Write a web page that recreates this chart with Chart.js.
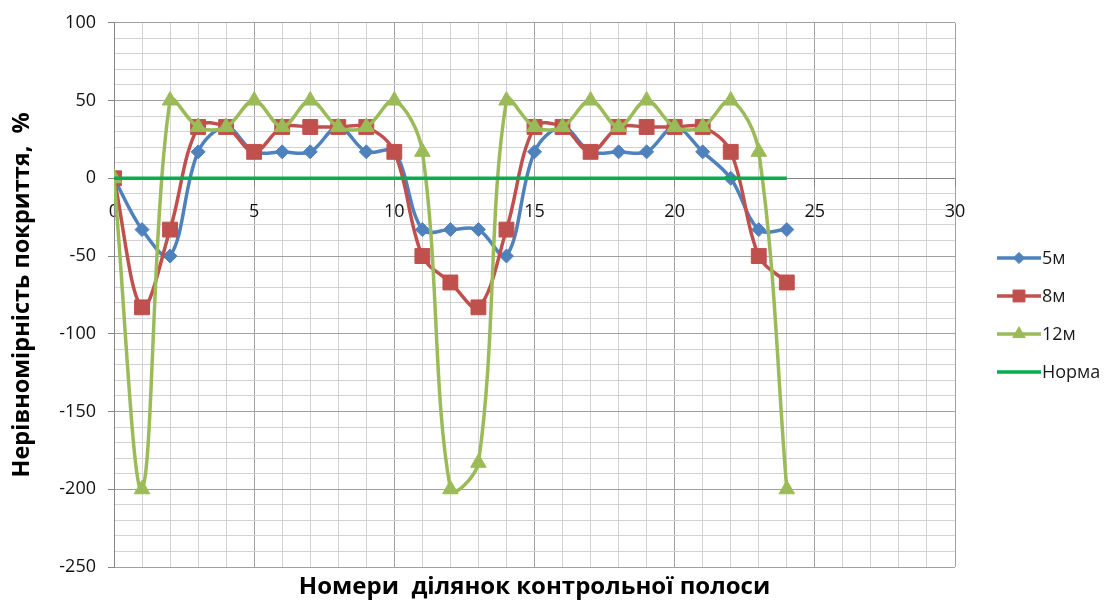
<!DOCTYPE html>
<html>
<head>
<meta charset="utf-8">
<script src="https://cdn.jsdelivr.net/npm/chart.js@4/dist/chart.umd.min.js"></script>
<style>
  html, body { margin: 0; padding: 0; background: #ffffff; }
  #wrap { width: 1106px; height: 603px; }
</style>
</head>
<body>
<div id="wrap"><canvas id="c" width="1106" height="603"></canvas></div>
<script>
// Section numbers of the control strip
const sections = [0, 1, 2, 3, 4, 5, 6, 7, 8, 9, 10, 11, 12, 13, 14, 15, 16, 17, 18, 19, 20, 21, 22, 23, 24];

// Coverage unevenness, % (per sprayer working width)
const unev5m  = [0, -33, -50, 17, 33, 17, 17, 17, 33, 17, 17, -33, -33, -33, -50, 17, 33, 17, 17, 17, 33, 17, 0, -33, -33];
const unev8m  = [0, -83, -33, 33, 33, 17, 33, 33, 33, 33, 17, -50, -67, -83, -33, 33, 33, 17, 33, 33, 33, 33, 17, -50, -67];
const unev12m = [0, -200, 50, 33, 33, 50, 33, 50, 33, 33, 50, 17, -200, -183, 50, 33, 33, 50, 33, 50, 33, 33, 50, 17, -200];

// Norm line end points
const normSections = [0, 24];
const normValues   = [0, 0];

// Labelled ticks
const xTickLabels = [0, 5, 10, 15, 20, 25, 30];
const yTickLabels = [100, 50, 0, -50, -100, -150, -200, -250];

const seriesNames = ['5м', '8м', '12м', 'Норма'];

const FONT = "'Open Sans', 'Liberation Sans', Arial, sans-serif";
const MAJOR = '#a0a0a0';
const MINOR = '#d2d2d2';
const AXIS = '#868686';

function pts(xs, ys) { return xs.map((x, i) => ({ x: x, y: ys[i] })); }

const datasets = [
  { label: seriesNames[0], data: pts(sections, unev5m), borderColor: '#4F81BD', backgroundColor: '#4F81BD',
    pointStyle: 'rectRot', pointRadius: 7, order: 4 },
  { label: seriesNames[1], data: pts(sections, unev8m), borderColor: '#C0504D', backgroundColor: '#C0504D',
    pointStyle: 'rect', pointRadius: 10.5, order: 3 },
  { label: seriesNames[2], data: pts(sections, unev12m), borderColor: '#9BBB59', backgroundColor: '#9BBB59',
    pointStyle: 'triangle', pointRadius: 9, order: 2 },
  { label: seriesNames[3], data: pts(normSections, normValues), borderColor: '#00B050', backgroundColor: '#00B050',
    pointRadius: 0, tension: 0, order: 1 }
].map(d => Object.assign({ borderWidth: 3.5, tension: 0.35, pointBorderWidth: 1,
  pointBorderColor: d.borderColor, pointBackgroundColor: d.backgroundColor, pointHoverRadius: d.pointRadius }, d));

// Legend at the right: line with marker, then the series name
const sideLegend = {
  id: 'sideLegend',
  afterDraw(chart) {
    const ctx = chart.ctx;
    const x0 = chart.chartArea.right + 42, x1 = x0 + 44;
    const yStart = 258, step = 38;
    chart.data.datasets.forEach((ds, i) => {
      const y = yStart + i * step;
      ctx.save();
      ctx.strokeStyle = ds.borderColor;
      ctx.lineWidth = 3.5;
      ctx.beginPath(); ctx.moveTo(x0, y); ctx.lineTo(x1, y); ctx.stroke();
      if (ds.pointRadius > 0 && Chart.helpers && Chart.helpers.drawPoint) {
        ctx.fillStyle = ds.backgroundColor;
        ctx.strokeStyle = ds.borderColor;
        ctx.lineWidth = 1;
        Chart.helpers.drawPoint(ctx, { pointStyle: ds.pointStyle, radius: ds.pointRadius * 0.8, rotation: 0, borderWidth: 1 }, (x0 + x1) / 2, y);
      }
      ctx.fillStyle = '#1a1a1a';
      ctx.font = '18px ' + FONT;
      ctx.textAlign = 'left';
      ctx.textBaseline = 'middle';
      ctx.fillText(ds.label, x1 + 1, y + 1);
      ctx.restore();
    });
  }
};

new Chart(document.getElementById('c'), {
  type: 'line',
  data: { datasets: datasets },
  plugins: [sideLegend],
  options: {
    responsive: false,
    animation: false,
    devicePixelRatio: 1,
    layout: { padding: { left: 0, right: 151, top: 21, bottom: 0 } },
    plugins: {
      legend: { display: false },
      tooltip: { enabled: false },
      title: {
        display: true,
        position: 'bottom',
        fullSize: false,
        text: 'Номери  ділянок контрольної полоси',
        color: '#000000',
        font: { family: FONT, size: 24, weight: 'bold' },
        padding: { top: 6, bottom: 1.2 }
      }
    },
    scales: {
      x: {
        type: 'linear',
        min: 0, max: 30,
        position: { y: 0 },
        border: { display: true, color: AXIS, width: 1 },
        grid: {
          color: c => (c.tick && c.tick.value % 5 === 0) ? MAJOR : MINOR,
          lineWidth: 1,
          tickLength: 8,
          tickColor: c => (c.tick && c.tick.value % 5 === 0) ? AXIS : 'rgba(0,0,0,0)'
        },
        ticks: {
          stepSize: 1,
          autoSkip: false,
          maxRotation: 0,
          padding: 15,
          color: '#111111',
          font: { family: FONT, size: 18 },
          callback: v => xTickLabels.includes(v) ? String(v) : ''
        }
      },
      y: {
        type: 'linear',
        min: -250, max: 100,
        border: { display: true, color: AXIS, width: 1 },
        grid: {
          color: c => (c.tick && c.tick.value % 50 === 0) ? MAJOR : MINOR,
          lineWidth: 1,
          tickLength: 6,
          tickColor: c => (c.tick && c.tick.value % 50 === 0) ? AXIS : 'rgba(0,0,0,0)'
        },
        ticks: {
          stepSize: 10,
          autoSkip: false,
          padding: 12,
          color: '#111111',
          font: { family: FONT, size: 18 },
          callback: v => yTickLabels.includes(v) ? String(v) : ''
        },
        title: {
          display: true,
          text: 'Нерівномірність покриття,  %',
          color: '#000000',
          font: { family: FONT, size: 23.5, weight: 'bold' },
          padding: { top: 8, bottom: 0 }
        },
        afterFit: s => { s.width = 114; }
      }
    }
  }
});
</script>
</body>
</html>
